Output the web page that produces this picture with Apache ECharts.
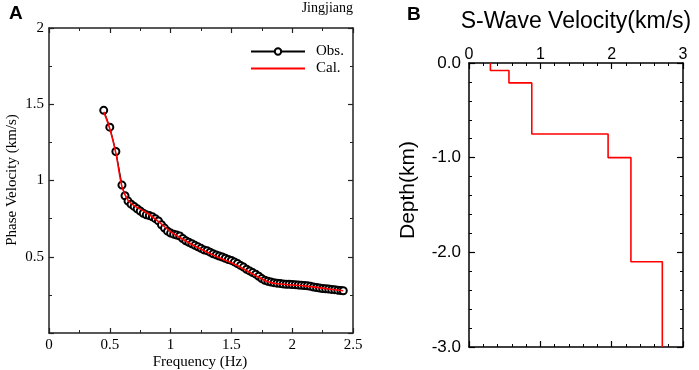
<!DOCTYPE html>
<html>
<head>
<meta charset="utf-8">
<script src="https://cdn.jsdelivr.net/npm/echarts@6/dist/echarts.min.js"></script>
<style>
  html, body { margin: 0; padding: 0; background: #fff; }
  #chart { width: 699px; height: 370px; }
</style>
</head>
<body>
<div id="chart"></div>
<script>
// panel A: observed dispersion curve
const obsFreq = [0.45, 0.50, 0.55, 0.60, 0.625, 0.65, 0.675, 0.70, 0.725, 0.75, 0.775, 0.80, 0.825, 0.85,
  0.875, 0.90, 0.925, 0.95, 0.975, 1.00, 1.025, 1.05, 1.075, 1.10, 1.125, 1.15, 1.175, 1.20, 1.225, 1.25,
  1.275, 1.30, 1.325, 1.35, 1.375, 1.40, 1.425, 1.45, 1.475, 1.50, 1.525, 1.55, 1.575, 1.60, 1.625, 1.65,
  1.675, 1.70, 1.725, 1.75, 1.775, 1.80, 1.825, 1.85, 1.875, 1.90, 1.925, 1.95, 1.975, 2.00, 2.025, 2.05,
  2.075, 2.10, 2.125, 2.15, 2.175, 2.20, 2.225, 2.25, 2.275, 2.30, 2.325, 2.35, 2.375, 2.40, 2.42];
const obsVel = [1.46, 1.35, 1.19, 0.97, 0.90, 0.865, 0.845, 0.83, 0.815, 0.80, 0.785, 0.775, 0.77, 0.762,
  0.75, 0.735, 0.71, 0.688, 0.668, 0.655, 0.648, 0.642, 0.636, 0.62, 0.605, 0.595, 0.585, 0.575, 0.565, 0.555,
  0.545, 0.54, 0.53, 0.52, 0.512, 0.505, 0.498, 0.49, 0.482, 0.476, 0.466, 0.456, 0.443, 0.432, 0.418, 0.407,
  0.396, 0.386, 0.372, 0.357, 0.346, 0.339, 0.334, 0.33, 0.327, 0.325, 0.322, 0.32, 0.319, 0.318, 0.317, 0.315,
  0.313, 0.311, 0.31, 0.306, 0.302, 0.298, 0.295, 0.292, 0.29, 0.288, 0.286, 0.284, 0.281, 0.279, 0.277];

// panel A: calculated curve
const calFreq = [0.45, 0.50, 0.55, 0.60, 0.65, 0.70, 0.80, 0.90, 1.00, 1.10, 1.20, 1.30, 1.40, 1.50,
  1.60, 1.70, 1.80, 1.90, 2.00, 2.10, 2.20, 2.30, 2.42];
const calVel = [1.45, 1.34, 1.18, 0.96, 0.87, 0.835, 0.79, 0.73, 0.665, 0.615, 0.57, 0.53, 0.494, 0.46,
  0.42, 0.376, 0.336, 0.321, 0.315, 0.309, 0.299, 0.289, 0.277];

// panel B: layered S-wave model
const layerVs = [0.3, 0.56, 0.88, 1.95, 2.27, 2.71];
const layerTop = [0, -0.08, -0.21, -0.75, -1.0, -2.1];
const layerBottom = [-0.08, -0.21, -0.75, -1.0, -2.1, -3.0];

const serif = "'Liberation Serif', 'DejaVu Serif', serif";
const sans = "'Liberation Sans', Arial, sans-serif";

const obsData = obsFreq.map((f, i) => [f, obsVel[i]]);
const calData = calFreq.map((f, i) => [f, calVel[i]]);
const profile = [];
layerVs.forEach((v, i) => {
  profile.push([v, layerTop[i]]);
  profile.push([v, layerBottom[i]]);
});

function valueAxis(opts) {
  return Object.assign({
    type: "value",
    splitLine: { show: false },
    axisLine: { show: true, onZero: false, lineStyle: { color: "#222", width: 1.5 } },
    axisTick: { show: true, inside: true, length: 5, lineStyle: { color: "#222", width: 1.2 } },
  }, opts);
}

const chart = echarts.init(document.getElementById("chart"));
chart.setOption({
  animation: false,
  backgroundColor: "#fff",
  grid: [
    { left: 49, top: 28, width: 304, height: 305 },
    { left: 469, top: 63, width: 214, height: 284 },
  ],
  legend: {
    left: 250,
    top: 44,
    orient: "vertical",
    itemWidth: 54,
    itemHeight: 8,
    itemGap: 2,
    padding: 0,
    textStyle: { fontFamily: serif, fontSize: 15, color: "#000", padding: [0, 0, 0, 6] },
    data: [{ name: "Obs." }, { name: "Cal.", itemStyle: { opacity: 0 } }],
  },
  xAxis: [
    valueAxis({
      gridIndex: 0, min: 0, max: 2.5, interval: 0.5, position: "bottom",
      minorTick: { show: true, splitNumber: 2, length: 3, lineStyle: { color: "#222" } },
      axisLabel: { fontFamily: serif, fontSize: 15, color: "#000", margin: 5 },
    }),
    valueAxis({
      gridIndex: 0, min: 0, max: 2.5, interval: 0.5, position: "top",
      minorTick: { show: true, splitNumber: 2, length: 3, lineStyle: { color: "#222" } },
      axisLabel: { show: false },
    }),
    valueAxis({
      gridIndex: 1, min: 0, max: 3, interval: 1, position: "top",
      axisLine: { show: true, onZero: false, lineStyle: { color: "#000", width: 1.5 } },
      axisTick: { show: true, inside: true, length: 6, lineStyle: { color: "#000", width: 1.2 } },
      minorTick: { show: true, splitNumber: 5, length: 3, lineStyle: { color: "#000" } },
      axisLabel: { fontFamily: sans, fontSize: 16, color: "#000", margin: 0 },
    }),
    valueAxis({
      gridIndex: 1, min: 0, max: 3, interval: 1, position: "bottom",
      axisLine: { show: true, onZero: false, lineStyle: { color: "#000", width: 1.5 } },
      axisTick: { show: true, inside: true, length: 6, lineStyle: { color: "#000", width: 1.2 } },
      minorTick: { show: true, splitNumber: 5, length: 3, lineStyle: { color: "#000" } },
      axisLabel: { show: false },
    }),
  ],
  yAxis: [
    valueAxis({
      gridIndex: 0, min: 0, max: 2, interval: 0.5, position: "left",
      minorTick: { show: true, splitNumber: 2, length: 3, lineStyle: { color: "#222" } },
      axisLabel: {
        fontFamily: serif, fontSize: 15, color: "#000", margin: 5,
        formatter: (v) => (v === 0 ? "" : String(v)),
      },
    }),
    valueAxis({
      gridIndex: 0, min: 0, max: 2, interval: 0.5, position: "right",
      minorTick: { show: true, splitNumber: 2, length: 3, lineStyle: { color: "#222" } },
      axisLabel: { show: false },
    }),
    valueAxis({
      gridIndex: 1, min: -3, max: 0, interval: 1, position: "left",
      axisLine: { show: true, onZero: false, lineStyle: { color: "#000", width: 1.5 } },
      axisTick: { show: true, inside: true, length: 6, lineStyle: { color: "#000", width: 1.2 } },
      minorTick: { show: true, splitNumber: 5, length: 3, lineStyle: { color: "#000" } },
      axisLabel: {
        fontFamily: sans, fontSize: 17, color: "#000", margin: 8,
        formatter: (v) => v.toFixed(1),
      },
    }),
    valueAxis({
      gridIndex: 1, min: -3, max: 0, interval: 1, position: "right",
      axisLine: { show: true, onZero: false, lineStyle: { color: "#000", width: 1.5 } },
      axisTick: { show: true, inside: true, length: 6, lineStyle: { color: "#000", width: 1.2 } },
      minorTick: { show: true, splitNumber: 5, length: 3, lineStyle: { color: "#000" } },
      axisLabel: { show: false },
    }),
  ],
  graphic: [
    { type: "text", left: 9, top: 4, style: { text: "A", font: "bold 19px " + sans, fill: "#000" } },
    { type: "text", left: 407, top: 5, style: { text: "B", font: "bold 19px " + sans, fill: "#000" } },
    { type: "text", right: 346, top: 1, style: { text: "Jingjiang", font: "14px " + serif, fill: "#000" } },
    {
      type: "text", x: 200, y: 362,
      style: { text: "Frequency (Hz)", font: "15px " + serif, fill: "#000", align: "center", verticalAlign: "middle" },
    },
    {
      type: "text", x: 12, y: 180, rotation: Math.PI / 2,
      style: { text: "Phase Velocity (km/s)", font: "15px " + serif, fill: "#000", align: "center", verticalAlign: "middle" },
    },
    {
      type: "text", x: 576, y: 22,
      style: { text: "S-Wave Velocity(km/s)", font: "23px " + sans, fill: "#000", align: "center", verticalAlign: "middle" },
    },
    {
      type: "text", x: 408, y: 190, rotation: Math.PI / 2,
      style: { text: "Depth(km)", font: "21px " + sans, fill: "#000", align: "center", verticalAlign: "middle" },
    },
  ],
  series: [
    {
      name: "Obs.",
      type: "line",
      xAxisIndex: 0,
      yAxisIndex: 0,
      data: obsData,
      symbol: "emptyCircle",
      symbolSize: 7,
      showSymbol: true,
      showAllSymbol: true,
      color: "#000",
      itemStyle: { color: "#000", borderWidth: 1.2 },
      lineStyle: { color: "#000", width: 1.2 },
      z: 2,
    },
    {
      name: "Cal.",
      type: "line",
      xAxisIndex: 0,
      yAxisIndex: 0,
      data: calData,
      symbol: "none",
      smooth: 0.3,
      color: "#f00",
      lineStyle: { color: "#f00", width: 1.6 },
      z: 3,
    },
    {
      name: "Vs",
      type: "line",
      xAxisIndex: 2,
      yAxisIndex: 2,
      data: profile,
      symbol: "none",
      color: "#f00",
      lineStyle: { color: "#f00", width: 1.6 },
    },
  ],
});
</script>
</body>
</html>
